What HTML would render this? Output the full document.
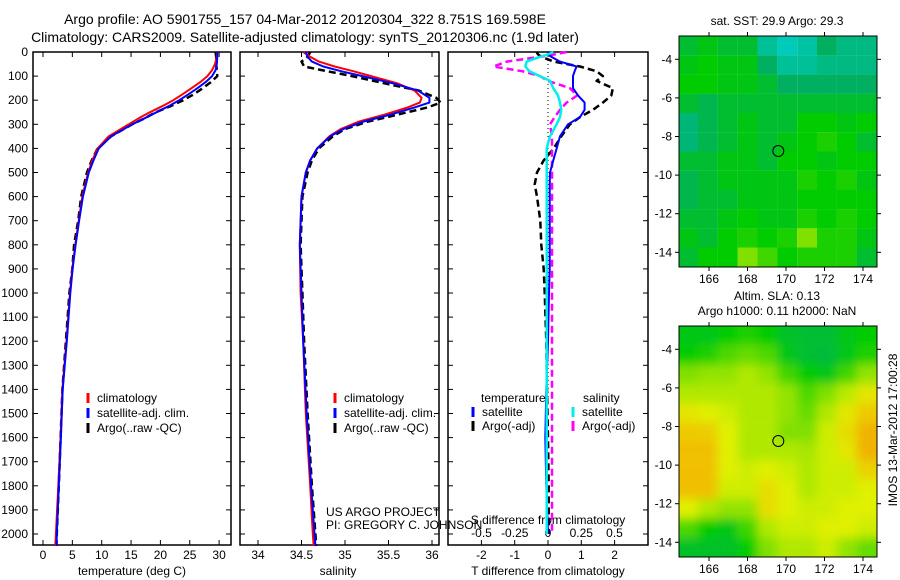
<!DOCTYPE html>
<html><head><meta charset="utf-8"><style>
body{margin:0;background:#fff;}
svg{display:block;font-family:"Liberation Sans",sans-serif;}
</style></head><body>
<svg id="fig" width="900" height="580" viewBox="0 0 900 580">
<text x="305" y="24" font-size="14" text-anchor="middle">Argo profile: AO 5901755_157 04-Mar-2012 20120304_322 8.751S 169.598E</text>
<text x="305" y="42" font-size="14" text-anchor="middle">Climatology: CARS2009. Satellite-adjusted climatology: synTS_20120306.nc (1.9d later)</text>
<g id="g"></g>
</svg>
<script>
const depthT=[0,20,50,75,100,125,150,175,200,225,250,275,300,350,400,450,500,600,700,800,900,1000,1200,1400,1600,1800,2000,2050];
const climT=[29.7,29.6,29.3,28.8,28,26.8,25.3,23.8,22.2,20.3,18.2,16.3,14.6,11.2,9.3,8.4,7.7,6.7,6.1,5.5,5.0,4.6,4.0,3.3,3.0,2.6,2.2,2.1];
const satT=[29.7,29.7,29.6,29.4,28.8,27.7,26.3,24.8,23.2,21.4,19.3,17.3,15.2,11.6,9.5,8.6,7.8,6.8,6.15,5.55,5.05,4.65,4.05,3.35,3.05,2.7,2.35,2.3];
const argoT=[29.4,29.5,29.5,29.6,29.7,28.6,27.2,25.7,23.9,21.7,19.2,17.3,15.2,11.6,9.3,8.3,7.5,6.5,6.0,5.3,5.0,4.5,3.9,3.3,3.0,2.7,2.35,2.3];
const depthS=[0,20,40,60,80,100,130,160,190,210,230,260,290,320,350,400,450,500,600,800,1000,1200,1500,1800,2000,2050];
const climS=[34.52,34.6,34.7,34.88,35.1,35.3,35.6,35.8,35.88,35.86,35.72,35.45,35.15,34.95,34.82,34.68,34.6,34.55,34.5,34.48,34.49,34.52,34.55,34.6,34.63,34.64];
const satS=[34.55,34.57,34.62,34.75,34.96,35.2,35.55,35.84,35.97,35.97,35.8,35.52,35.2,34.98,34.83,34.68,34.6,34.55,34.5,34.48,34.5,34.52,34.56,34.61,34.65,34.66];
const argoS=[34.6,34.57,34.5,34.53,34.8,35.08,35.45,35.85,36.05,36.1,35.95,35.6,35.25,35.0,34.86,34.7,34.62,34.57,34.51,34.49,34.51,34.53,34.57,34.62,34.66,34.67];
const depthD=[0,10,20,40,60,80,100,120,150,180,210,240,270,300,350,400,450,500,550,600,700,800,900,1000,1200,1400,1600,1800,2000];
const satDT=[0.1,0,0.1,0.36,0.86,0.8,0.75,0.75,0.75,0.9,1.1,1.1,0.96,0.6,0.36,0.26,0.16,0.06,0.05,0.05,0.05,0.05,0.05,0.03,0,-0.05,-0.08,-0.05,0];
const argoDT=[-0.34,-0.3,-0.2,0.17,0.96,1.46,1.65,1.46,1.95,1.9,1.65,1.35,0.96,0.66,0.4,0.17,-0.13,-0.33,-0.4,-0.33,-0.23,-0.2,-0.13,-0.1,-0.05,-0.03,0,0.02,0.02];
const satDS=[0.04,0,-0.06,-0.16,-0.17,-0.14,-0.06,0.015,0.04,0.075,0.09,0.1,0.09,0.065,0.015,-0.01,-0.01,-0.01,-0.01,-0.01,-0.01,-0.01,-0.01,-0.01,-0.01,-0.01,-0.01,-0.01,-0.01];
const argoDS=[0.14,0.05,-0.06,-0.31,-0.41,-0.19,-0.06,0,0.165,0.22,0.14,0.09,0.05,0.015,0.03,0.03,0.03,0.03,0.03,0.03,0.03,0.03,0.03,0.03,0.03,0.03,0.03,0.03,0.03];
const depthTicks=[0,100,200,300,400,500,600,700,800,900,1000,1100,1200,1300,1400,1500,1600,1700,1800,1900,2000];
const tempTicks=[0,5,10,15,20,25,30];
const salTicks=[34,34.5,35,35.5,36];
const salTickLabels=["34","34.5","35","35.5","36"];
const dTTicks=[-2,-1,0,1,2];
const dSTicks=[-0.5,-0.25,0,0.25,0.5];
const dSTickLabels=["-0.5","-0.25","0","0.25","0.5"];
const sstGrid=[
[0.55,0.58,0.55,0.55,0.45,0.42,0.44,0.5,0.47,0.47],
[0.58,0.6,0.58,0.58,0.5,0.45,0.45,0.47,0.47,0.47],
[0.6,0.6,0.58,0.58,0.55,0.5,0.5,0.5,0.5,0.5],
[0.55,0.52,0.55,0.55,0.55,0.55,0.55,0.55,0.55,0.55],
[0.48,0.52,0.55,0.58,0.55,0.55,0.6,0.6,0.58,0.6],
[0.48,0.52,0.55,0.58,0.55,0.58,0.6,0.62,0.6,0.55],
[0.55,0.55,0.58,0.58,0.55,0.6,0.6,0.58,0.6,0.6],
[0.52,0.55,0.58,0.58,0.58,0.58,0.62,0.6,0.62,0.58],
[0.52,0.55,0.55,0.58,0.58,0.58,0.6,0.6,0.6,0.6],
[0.55,0.55,0.58,0.6,0.58,0.58,0.62,0.6,0.62,0.6],
[0.58,0.55,0.6,0.62,0.6,0.62,0.7,0.62,0.62,0.58],
[0.55,0.6,0.6,0.7,0.65,0.6,0.62,0.62,0.62,0.55]];
const slaGrid=[
[0.58,0.58,0.6,0.62,0.6,0.56,0.55,0.55,0.58,0.6],
[0.6,0.62,0.66,0.68,0.66,0.58,0.55,0.54,0.58,0.62],
[0.7,0.72,0.72,0.75,0.72,0.65,0.6,0.58,0.65,0.72],
[0.75,0.75,0.75,0.75,0.75,0.72,0.66,0.7,0.76,0.82],
[0.82,0.8,0.78,0.75,0.75,0.72,0.68,0.75,0.82,0.88],
[0.88,0.87,0.8,0.75,0.75,0.7,0.7,0.78,0.84,0.92],
[0.9,0.9,0.8,0.75,0.75,0.75,0.74,0.78,0.82,0.92],
[0.9,0.9,0.8,0.78,0.8,0.78,0.75,0.78,0.78,0.86],
[0.9,0.9,0.78,0.78,0.84,0.8,0.75,0.78,0.78,0.8],
[0.8,0.75,0.72,0.72,0.84,0.8,0.78,0.78,0.8,0.8],
[0.66,0.6,0.58,0.65,0.75,0.78,0.78,0.8,0.8,0.78],
[0.56,0.56,0.56,0.6,0.7,0.75,0.75,0.78,0.72,0.68]];
const lonTicks=[166,168,170,172,174];
const latTicks=[-4,-6,-8,-10,-12,-14];
const argoLon=169.6, argoLat=-8.75;

const NS="http://www.w3.org/2000/svg";
const G=document.getElementById('g');
function el(tag,attrs,parent,txt){const e=document.createElementNS(NS,tag);for(const k in attrs)e.setAttribute(k,attrs[k]);if(txt!==undefined)e.textContent=txt;(parent||G).appendChild(e);return e;}
const Y0=52,PXD=0.241;
const yD=d=>Y0+d*PXD;
const panels=[
 {x0:33,x1:231,name:'temperature-panel'},
 {x0:240,x1:439,name:'salinity-panel'},
 {x0:448,x1:648,name:'difference-panel'}];
const xT=t=>43+t*5.87;
const xS=s=>258+(s-34)*87;
const xDT=t=>548+t*33.3;
const xDS=s=>548+s*133;
const BOT=545;

panels.forEach((p,i)=>{
 const r=el('rect',{x:p.x0,y:Y0,width:p.x1-p.x0,height:BOT-Y0,fill:'none',stroke:'#000','stroke-width':1.5});
 
 
 depthTicks.forEach(d=>{
  const tl=el('line',{x1:p.x0,x2:p.x0+5,y1:yD(d),y2:yD(d),stroke:'#000'});
  
  
  const tr=el('line',{x1:p.x1,x2:p.x1-5,y1:yD(d),y2:yD(d),stroke:'#000'});
  
  
 });
});
depthTicks.forEach(d=>{
 const t=el('text',{x:28,y:yD(d)+4,'font-size':12,'text-anchor':'end'},G,String(d));
 
 
});
function xticks(vals,labels,fx,p,ly){
 vals.forEach((v,i)=>{
  const x=fx(v);
  const a=el('line',{x1:x,x2:x,y1:BOT,y2:BOT-5,stroke:'#000'});
  
  
  const b=el('line',{x1:x,x2:x,y1:Y0,y2:Y0+5,stroke:'#000'});
  
  
  const t=el('text',{x:x,y:ly,'font-size':12,'text-anchor':'middle'},G,labels[i]);
  
  
 });
}
xticks(tempTicks,tempTicks.map(String),xT,panels[0],559);
xticks(salTicks,salTickLabels,xS,panels[1],559);
xticks(dTTicks,dTTicks.map(String),xDT,panels[2],559);
dSTicks.forEach((v,i)=>{
 const t=el('text',{x:xDS(v),y:537,'font-size':12,'text-anchor':'middle'},G,dSTickLabels[i]);
 
 
});
function lbl(x,y,s,name,extra){const t=el('text',Object.assign({x:x,y:y,'font-size':12,'text-anchor':'middle'},extra||{}),G,s);return t;}
lbl(132,575,'temperature (deg C)','temperature-axis-title');
lbl(338,575,'salinity','salinity-axis-title');
lbl(548,575,'T difference from climatology','t-diff-axis-title');
lbl(548,524,'S difference from climatology','s-diff-axis-title');
lbl(326,516,'US ARGO PROJECT','project-label',{'text-anchor':'start'});
lbl(326,529,'PI: GREGORY C. JOHNSON','pi-label',{'text-anchor':'start'});

const zl=el('line',{x1:548,x2:548,y1:Y0,y2:400,stroke:'#000','stroke-dasharray':'1,3'});



function series(xs,ds,fx,color,dash,w,name){
 const pts=xs.map((v,i)=>fx(v).toFixed(1)+','+yD(ds[i]).toFixed(1)).join(' ');
 const a={points:pts,fill:'none',stroke:color,'stroke-width':w,'stroke-linejoin':'round'};
 if(dash)a['stroke-dasharray']=dash;
 const l=el('polyline',a);
 
 
}
series(argoT,depthT,xT,'#000','7,4',2.5,'argo-temperature-line');
series(climT,depthT,xT,'#f00',null,2,'climatology-temperature-line');
series(satT,depthT,xT,'#00f',null,2,'satellite-temperature-line');
series(argoS,depthS,xS,'#000','7,4',2.5,'argo-salinity-line');
series(climS,depthS,xS,'#f00',null,2,'climatology-salinity-line');
series(satS,depthS,xS,'#00f',null,2,'satellite-salinity-line');
series(argoDT,depthD,xDT,'#000','7,4',2.5,'argo-t-diff-line');
series(argoDS,depthD,xDS,'#f0f','7,4',2.5,'argo-s-diff-line');
series(satDT,depthD,xDT,'#00f',null,2,'satellite-t-diff-line');
series(satDS,depthD,xDS,'#0ee',null,2.5,'satellite-s-diff-line');

function legItem(x,y,color,text,name){
 const b=el('line',{x1:x,x2:x,y1:y-9,y2:y+1,stroke:color,'stroke-width':3});
 
 
 const t=el('text',{x:x+9,y:y,'font-size':12},G,text);
 
 
}
[[0,88],[1,335]].forEach(([k,x])=>{
 legItem(x,402,'#f00','climatology','legend-climatology');
 legItem(x,417,'#00f','satellite-adj. clim.','legend-satellite-adj');
 legItem(x,432,'#000','Argo(..raw -QC)','legend-argo');
});
lbl(481,402,'temperature','legend-temperature-heading',{'text-anchor':'start'});
legItem(473,416,'#00f','satellite','legend-t-satellite');
legItem(473,430,'#000','Argo(-adj)','legend-t-argo');
lbl(583,402,'salinity','legend-salinity-heading',{'text-anchor':'start'});
legItem(573,416,'#0ee','satellite','legend-s-satellite');
legItem(573,430,'#f0f','Argo(-adj)','legend-s-argo');

const stops=[[0,[0,0,128]],[0.15,[0,0,255]],[0.3,[0,160,255]],[0.4,[0,208,208]],[0.5,[0,176,96]],[0.6,[0,204,0]],[0.7,[128,224,0]],[0.8,[224,240,0]],[0.9,[240,192,0]],[1,[240,128,0]]];
function cmap(v){for(let i=1;i<stops.length;i++){if(v<=stops[i][0]){const [a,ca]=stops[i-1],[b,cb]=stops[i];const f=(v-a)/(b-a);return 'rgb('+ca.map((c,j)=>Math.round(c+(cb[j]-c)*f)).join(',')+')';}}return 'rgb(240,128,0)';}
const MX0=679,MX1=877;
const xLon=l=>709+(l-166)*19.25;
function drawMap(grid,top,name,blur){
 const yLat=l=>top+23.3+(-4-l)*19.3;
 const bottom=top+231;
 const clip=el('clipPath',{id:name+'-clip'});
 el('rect',{x:MX0,y:top,width:MX1-MX0,height:231},clip);
 const outer=el('g',{'clip-path':'url(#'+name+'-clip)'});
 const g=el('g',{},outer);
 if(blur){const f=el('filter',{id:name+'-blur',x:'-0.1',y:'-0.1',width:'1.2',height:'1.2'});el('feGaussianBlur',{stdDeviation:5},f);g.setAttribute('filter','url(#'+name+'-blur)');}
 
 
 const rows=grid.length,cols=grid[0].length;
 grid.forEach((row,r)=>row.forEach((v,c)=>{
  const lon0=164.4+c*1.03, lat0=-2.8-r*0.9958;
  const x=xLon(lon0),y=yLat(lat0);
  const pad=blur?12:0;
  const cell=el('rect',{x:(x-(c==0?pad:0)).toFixed(1),y:(y-(r==0?pad:0)).toFixed(1),width:(19.9+(c==0||c==cols-1?pad:0)).toFixed(1),height:(19.3+(r==0||r==rows-1?pad:0)).toFixed(1),fill:cmap(v)},g);
  
  
 }));
 const fr=el('rect',{x:MX0,y:top,width:MX1-MX0,height:231,fill:'none',stroke:'#000','stroke-width':1});
 
 
 lonTicks.forEach(l=>{
  const x=xLon(l);
  el('line',{x1:x,x2:x,y1:top,y2:top-4,stroke:'#000'});
  el('line',{x1:x,x2:x,y1:bottom,y2:bottom+4,stroke:'#000'});
  const t=el('text',{x:x,y:bottom+16,'font-size':12,'text-anchor':'middle'},G,String(l));
  
  
 });
 latTicks.forEach(l=>{
  const y=yLat(l);
  el('line',{x1:MX0,x2:MX0-4,y1:y,y2:y,stroke:'#000'});
  el('line',{x1:MX1,x2:MX1+4,y1:y,y2:y,stroke:'#000'});
  const t=el('text',{x:672,y:y+4,'font-size':12,'text-anchor':'end'},G,String(l));
  
  
 });
 const m=el('circle',{cx:xLon(argoLon),cy:yLat(argoLat),r:5.5,fill:'none',stroke:'#000','stroke-width':1});
 
 
}
drawMap(sstGrid,36,'sst-map',false);
drawMap(slaGrid,326,'sla-map',true);
lbl(777,25,'sat. SST: 29.9 Argo: 29.3','sst-map-title');
lbl(777,300,'Altim. SLA: 0.13','sla-map-title');
lbl(777,315,'Argo h1000: 0.11 h2000: NaN','sla-map-subtitle');
const ts=el('text',{x:897,y:430,'font-size':12,'text-anchor':'middle',transform:'rotate(-90 897 430)'},G,'IMOS 13-Mar-2012 17:00:28');


</script>
</body></html>
